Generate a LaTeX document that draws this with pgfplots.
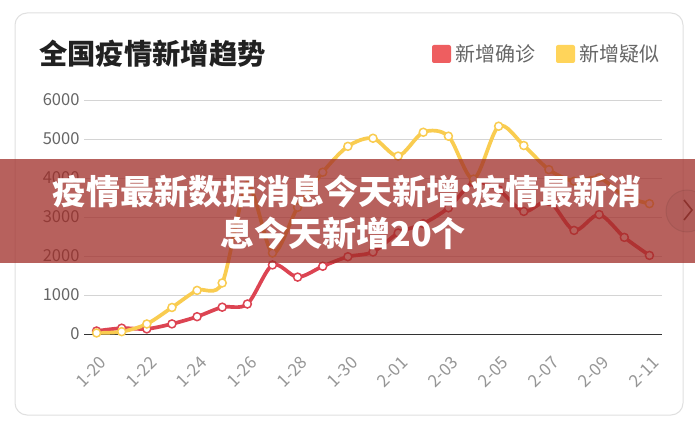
\documentclass[border=0pt]{standalone}
\usepackage{pgfplots}
\pgfplotsset{compat=1.18}
\usepackage{fontspec}
\setmainfont{Noto Sans CJK SC}
\definecolor{redline}{RGB}{220,68,82}
\definecolor{legred}{RGB}{238,94,96}
\definecolor{yelline}{RGB}{249,204,80}
\definecolor{legyel}{RGB}{255,212,90}
\definecolor{gridc}{RGB}{212,212,212}
\definecolor{tickc}{RGB}{102,102,102}
\definecolor{xtickc}{RGB}{150,150,150}
\definecolor{bannerc}{RGB}{160,45,40}
\definecolor{arrowc}{RGB}{140,50,45}
\begin{document}
\begin{tikzpicture}[x=1pt,y=1pt]
\useasboundingbox (0,0) rectangle (695,423);
\clip (0,0) rectangle (695,423);
\fill[white] (0,0) rectangle (695,423);
\draw[draw=black!12, line width=1pt, rounded corners=12pt] (15,8) rectangle (683,410);
\node[anchor=west, font=\bfseries\fontsize{28.3}{28.3}\selectfont, text=black!87, inner sep=0pt] at (39,369) {全国疫情新增趋势};
\fill[legred, rounded corners=2pt] (432,360) rectangle (451,378);
\node[anchor=west, font=\fontsize{20}{20}\selectfont, text=tickc, inner sep=0pt] at (455,369) {新增确诊};
\fill[legyel, rounded corners=2pt] (556,360) rectangle (575,378);
\node[anchor=west, font=\fontsize{20}{20}\selectfont, text=tickc, inner sep=0pt] at (579,369) {新增疑似};
\begin{axis}[
  at={(84pt,89pt)}, anchor=south west, scale only axis,
  width=578pt, height=234pt,
  xmin=-0.5, xmax=22.5, ymin=0, ymax=6000,
  ytick={0,1000,...,6000},
  xtick={0,2,...,22},
  xticklabels={1-20,1-22,1-24,1-26,1-28,1-30,2-01,2-03,2-05,2-07,2-09,2-11},
  ymajorgrids, grid style={color=gridc, line width=0.8pt},
  axis line style={draw=none},
  major tick length=0pt,
  /pgf/number format/assume math mode=true,
  /pgf/number format/1000 sep={},
  yticklabel style={text=tickc, font=\fontsize{16.5}{16.5}\selectfont, anchor=east, xshift=-1pt},
  xticklabel style={text=xtickc, font=\fontsize{17}{17}\selectfont, rotate=45, anchor=east, xshift=-10pt, yshift=-23pt},
  clip=false,
]
\draw[black!80, line width=1pt] (axis cs:-0.5,0) -- (axis cs:22.5,0);
\addplot[smooth, line width=3.7pt, color=redline, mark=*, mark size=4pt, mark options={fill=white, draw=redline, line width=1.5pt}] coordinates {
(0,77) (1,149) (2,131) (3,259) (4,444) (5,688) (6,769) (7,1771) (8,1459) (9,1737) (10,1982) (11,2102) (12,2590) (13,2829) (14,3235) (15,3887) (16,3694) (17,3143) (18,3399) (19,2656) (20,3062) (21,2478) (22,2015)};
\addplot[smooth, line width=3.7pt, color=yelline, mark=*, mark size=4pt, mark options={fill=white, draw=yelline, line width=1.5pt}] coordinates {
(0,27) (1,60) (2,257) (3,680) (4,1118) (5,1309) (6,3806) (7,2077) (8,3248) (9,4148) (10,4812) (11,5019) (12,4562) (13,5173) (14,5072) (15,3971) (16,5328) (17,4833) (18,4214) (19,3916) (20,4008) (21,3536) (22,3342)};
\end{axis}
\fill[bannerc, fill opacity=0.75] (0,160) rectangle (695,264);
\draw[draw=black, draw opacity=0.07, fill=black, fill opacity=0.03, line width=1pt] (687,212) circle (21);
\draw[arrowc, line width=1.6pt] (684,223) -- (692,213) -- (684,203);
\node[font=\bfseries\fontsize{34}{34}\selectfont, text=white, inner sep=0pt] at (347,232) {疫情最新数据消息今天新增:疫情最新消};
\node[font=\bfseries\fontsize{34}{34}\selectfont, text=white, inner sep=0pt] at (343,190) {息今天新增20个};
\end{tikzpicture}
\end{document}
